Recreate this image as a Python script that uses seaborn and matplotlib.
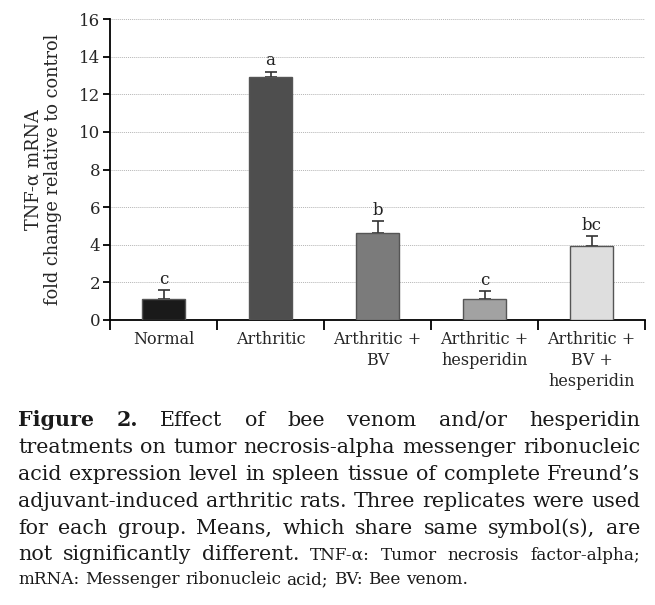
import numpy as np
import pandas as pd
import seaborn as sns
import matplotlib.pyplot as plt
from matplotlib.ticker import FixedLocator, NullFormatter, FixedFormatter

# Data
groups = ['Normal', 'Arthritic', 'Arthritic +\nBV', 'Arthritic +\nhesperidin',
          'Arthritic +\nBV +\nhesperidin']
fold_change = [1.1, 12.9, 4.65, 1.1, 3.95]
sd = [0.5, 0.3, 0.6, 0.45, 0.5]
letters = ['c', 'a', 'b', 'c', 'bc']
bar_colors = ['#1a1a1a', '#4e4e4e', '#7b7b7b', '#a2a2a2', '#dedede']
yticks = [0, 2, 4, 6, 8, 10, 12, 14, 16]

caption_lines = [
    [("Figure", 'big_bold'), ("2.", 'big_bold'),
     ("Effect of bee venom and/or hesperidin", 'big')],
    [("treatments on tumor necrosis-alpha messenger ribonucleic", 'big')],
    [("acid expression level in spleen tissue of complete Freund\u2019s", 'big')],
    [("adjuvant-induced arthritic rats. Three replicates were used", 'big')],
    [("for each group. Means, which share same symbol(s), are", 'big')],
    [("not significantly different.", 'big'),
     ("TNF-\u03b1: Tumor necrosis factor-alpha;", 'small')],
    [("mRNA: Messenger ribonucleic acid; BV: Bee venom.", 'small')],
]

df = pd.DataFrame({'group': groups, 'value': fold_change})

sns.set_style('white')
plt.rcParams['font.family'] = ['DejaVu Serif']

W, H = 655, 605
fig = plt.figure(figsize=(W / 100, H / 100), dpi=100)
ax = fig.add_axes([110 / W, 1 - 320 / H, (645 - 110) / W, (320 - 19) / H])

sns.barplot(data=df, x='group', y='value', hue='group', palette=bar_colors,
            width=0.41, errorbar=None, legend=False, ax=ax,
            edgecolor='#555555', linewidth=1.0, zorder=3)
x = np.arange(len(groups))
ax.errorbar(x, fold_change, yerr=[np.zeros(len(sd)), sd], fmt='none',
            ecolor='#333333', elinewidth=1.2, capsize=4.5, capthick=1.2, zorder=2)

for xi, v, s, lab in zip(x, fold_change, sd, letters):
    ax.text(xi, v + s + 0.12, lab, ha='center', va='bottom', fontsize=12,
            color='#222222')

ax.set_xlim(-0.5, len(groups) - 0.5)
ax.set_ylim(0, 16)
ax.set_yticks(yticks)
ax.yaxis.grid(True, linestyle=(0, (1, 1)), color='#b5b5b5', linewidth=0.7)
ax.set_axisbelow(True)

# boundary ticks between categories, labels centred underneath
ax.xaxis.set_major_locator(FixedLocator(np.arange(len(groups) + 1) - 0.5))
ax.xaxis.set_major_formatter(NullFormatter())
ax.xaxis.set_minor_locator(FixedLocator(x))
ax.xaxis.set_minor_formatter(FixedFormatter(groups))
ax.tick_params(axis='x', which='major', direction='out', length=7, width=1.3,
               color='black', bottom=True)
ax.tick_params(axis='x', which='minor', length=0, pad=8, labelsize=11.5)
for lab in ax.get_xticklabels(minor=True):
    lab.set_linespacing(1.3)
ax.tick_params(axis='y', direction='out', length=5, width=1.3, color='black',
               left=True, labelsize=12, pad=2)

for side in ['top', 'right']:
    ax.spines[side].set_visible(False)
for side in ['left', 'bottom']:
    ax.spines[side].set_color('black')
    ax.spines[side].set_linewidth(1.3)

ax.set_xlabel('')
ax.set_ylabel('TNF-\u03b1 mRNA\nfold change relative to control', fontsize=12.8,
              linespacing=1.15, labelpad=12)

# justified caption, font sizes fitted to the reference line widths
renderer = fig.canvas.get_renderer()


def fit_size(text, target):
    t = fig.text(0, 0, text, fontsize=10)
    w = t.get_window_extent(renderer).width
    t.remove()
    return 10 * target / w


big = fit_size(caption_lines[1][0][0], 622)
small = fit_size(caption_lines[-1][0][0], 450)
styles = {
    'big': dict(fontsize=big, fontweight='normal'),
    'big_bold': dict(fontsize=big, fontweight='bold'),
    'small': dict(fontsize=small, fontweight='normal'),
}
x0, x1 = 18, 640
baselines = [426, 453, 480, 507, 534, 560, 584]
for li, (segs, yb) in enumerate(zip(caption_lines, baselines)):
    words = []
    for text, st in segs:
        for w in text.split(' '):
            words.append((w, st))
    items = []
    for w, st in words:
        t = fig.text(0, 1 - yb / H, w, va='baseline', ha='left',
                     color='#1a1a1a', **styles[st])
        items.append((t, t.get_window_extent(renderer).width))
    total = sum(wd for _, wd in items)
    if li == len(caption_lines) - 1:
        gap = (450 - total) / (len(items) - 1)
    else:
        gap = (x1 - x0 - total) / (len(items) - 1)
    xc = x0
    for t, wd in items:
        t.set_x(xc / W)
        xc += wd + gap

fig.savefig('out.png', dpi=100)
